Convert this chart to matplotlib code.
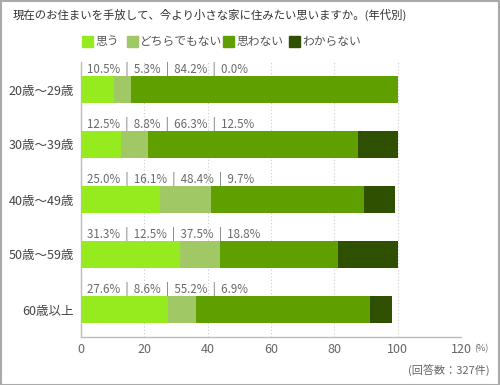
import matplotlib
matplotlib.use("Agg")
import matplotlib.pyplot as plt
from matplotlib.patches import Rectangle

plt.rcParams['font.family'] = ['Noto Sans CJK JP', 'DejaVu Sans']

categories = ["20歳～29歳", "30歳～39歳", "40歳～49歳", "50歳～59歳", "60歳以上"]
series_names = ["思う", "どちらでもない", "思わない", "わからない"]
omou = [10.5, 12.5, 25.0, 31.3, 27.6]
dochira = [5.3, 8.8, 16.1, 12.5, 8.6]
omowanai = [84.2, 66.3, 48.4, 37.5, 55.2]
wakaranai = [0.0, 12.5, 9.7, 18.8, 6.9]
xticks = [0, 20, 40, 60, 80, 100, 120]
colors = ["#96EB1E", "#A0C864", "#5FA000", "#2F5000"]

series = [omou, dochira, omowanai, wakaranai]

fig = plt.figure(figsize=(5.0, 3.85), dpi=100)
W, H = 500, 385
ax = fig.add_axes([81 / W, 1 - 337 / H, (461 - 81) / W, (337 - 62) / H])

y = list(range(len(categories)))
left = [0.0] * len(categories)
for vals, c in zip(series, colors):
    ax.barh(y, vals, left=left, height=0.49, color=c, edgecolor='none', zorder=3)
    left = [l + v for l, v in zip(left, vals)]

for i in y:
    txt = "  |  ".join(f"{s[i]:.1f}%" for s in series)
    ax.text(1.8, i - 0.38, txt, fontsize=8.3, color="#6A6A6A",
            va='center', ha='left', zorder=4)

ax.set_xlim(0, 120)
ax.set_ylim(len(categories) - 0.5, -0.5)
ax.set_xticks(xticks)
ax.set_xticklabels([str(t) for t in xticks], fontsize=9, color="#666666")
ax.set_yticks(y)
ax.set_yticklabels(categories, fontsize=9, color="#444444")
ax.tick_params(axis='x', length=0, pad=4)
ax.tick_params(axis='y', length=0, pad=5)
for t in xticks[1:]:
    ax.axvline(t, color="#CCCCCC", linestyle=(0, (1, 2)), linewidth=0.8, zorder=1)
for s in ['top', 'right']:
    ax.spines[s].set_visible(False)
for s in ['left', 'bottom']:
    ax.spines[s].set_color("#BBBBBB")
    ax.spines[s].set_linewidth(1.0)

# title
fig.text(13 / W, 1 - 15 / H, "現在のお住まいを手放して、今より小さな家に住みたい思いますか。(年代別)",
         fontsize=8.2, color="#333333", va='center', ha='left')

# legend
leg_x = [82, 127, 223, 289]
for name, c, lx in zip(series_names, colors, leg_x):
    fig.patches.append(Rectangle((lx / W, 1 - 47 / H), 11 / W, 11 / H,
                                 transform=fig.transFigure, color=c))
    fig.text((lx + 13) / W, 1 - 41.5 / H, name, fontsize=8.5, color="#555555",
             va='center', ha='left')

fig.text(474 / W, 1 - 349 / H, "(%)", fontsize=6.5, color="#666666", va='center', ha='left')
fig.text(490 / W, 1 - 371 / H, "(回答数：327件)", fontsize=8, color="#666666",
         va='center', ha='right')

# frame
fig.patches.append(Rectangle((0.5 / W, 0.5 / H), 1 - 1.5 / W, 1 - 1.5 / H,
                             transform=fig.transFigure, fill=False,
                             edgecolor="#AAAAAA", linewidth=1.5))

fig.savefig("out.png", dpi=100)
